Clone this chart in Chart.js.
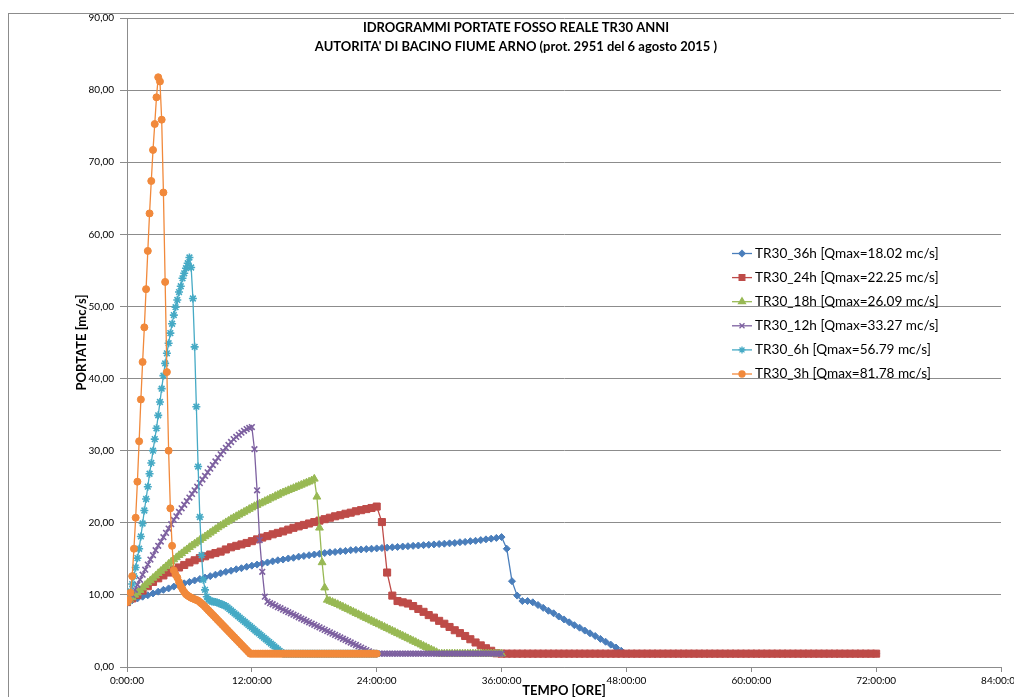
<!DOCTYPE html>
<html>
<head>
<meta charset="utf-8">
<script src="https://cdn.jsdelivr.net/npm/chart.js@4.4.1/dist/chart.umd.min.js"></script>
<style>
  html, body { margin: 0; padding: 0; background: #fff; overflow: hidden; }
  #grafico { position: absolute; left: 0; top: 0; }
</style>
</head>
<body>
<canvas id="grafico" width="1040" height="720"></canvas>
<script>
const titolo = [
  "IDROGRAMMI PORTATE FOSSO REALE TR30 ANNI",
  "AUTORITA' DI BACINO FIUME ARNO (prot. 2951 del 6 agosto 2015 )"
];
const nomiSerie = [
  "TR30_36h [Qmax=18.02 mc/s]",
  "TR30_24h [Qmax=22.25 mc/s]",
  "TR30_18h [Qmax=26.09 mc/s]",
  "TR30_12h [Qmax=33.27 mc/s]",
  "TR30_6h [Qmax=56.79 mc/s]",
  "TR30_3h [Qmax=81.78 mc/s]"
];
// passo temporale (ore) tra due valori di ogni idrogramma
const passi = [0.5, 0.5, 0.25, 0.25, 1 / 6, 1 / 6];

const etichetteX = ["0:00:00", "12:00:00", "24:00:00", "36:00:00", "48:00:00", "60:00:00", "72:00:00", "84:00:00"];
const etichetteY = ["0,00", "10,00", "20,00", "30,00", "40,00", "50,00", "60,00", "70,00", "80,00", "90,00"];

// portate [mc/s]
const q36h = [
  9.0, 9.25, 9.5, 9.75, 9.95, 10.2, 10.45, 10.7, 10.9, 11.15,
  11.35, 11.6, 11.8, 12.0, 12.2, 12.4, 12.6, 12.8, 13.0, 13.2,
  13.35, 13.55, 13.7, 13.9, 14.05, 14.2, 14.35, 14.5, 14.65, 14.8,
  14.9, 15.05, 15.15, 15.3, 15.4, 15.5, 15.6, 15.7, 15.8, 15.9,
  15.95, 16.05, 16.1, 16.2, 16.25, 16.3, 16.35, 16.4, 16.45, 16.5,
  16.55, 16.6, 16.65, 16.7, 16.75, 16.8, 16.85, 16.9, 16.95, 17.0,
  17.05, 17.1, 17.15, 17.2, 17.3, 17.35, 17.45, 17.5, 17.6, 17.7,
  17.8, 17.9, 18.02, 16.4, 11.9, 9.9, 9.15, 9.15, 8.97, 8.6,
  8.2, 7.8, 7.45, 7.0, 6.6, 6.2, 5.8, 5.45, 5.05, 4.67,
  4.3, 3.9, 3.5, 3.1, 2.7, 2.25, 1.85, 1.85, 1.85, 1.85,
  1.85, 1.85, 1.85, 1.85, 1.85, 1.85, 1.85, 1.85, 1.85, 1.85,
  1.85, 1.85, 1.85, 1.85, 1.85, 1.85, 1.85, 1.85, 1.85, 1.85,
  1.85, 1.85, 1.85, 1.85, 1.85, 1.85, 1.85, 1.85, 1.85, 1.85,
  1.85, 1.85, 1.85, 1.85, 1.85, 1.85, 1.85, 1.85, 1.85, 1.85,
  1.85, 1.85, 1.85, 1.85, 1.85
];
const q24h = [
  9.0, 9.5, 10.0, 10.6, 11.2, 11.8, 12.3, 12.7, 13.1, 13.5,
  13.8, 14.15, 14.5, 14.8, 15.1, 15.35, 15.6, 15.8, 16.0, 16.3,
  16.6, 16.8, 17.0, 17.2, 17.45, 17.7, 17.95, 18.15, 18.4, 18.6,
  18.8, 19.05, 19.3, 19.5, 19.7, 19.9, 20.1, 20.3, 20.5, 20.7,
  20.9, 21.05, 21.25, 21.4, 21.6, 21.75, 21.9, 22.05, 22.25, 20.1,
  13.1, 9.9, 9.15, 8.97, 8.8, 8.45, 8.05, 7.65, 7.2, 6.85,
  6.4, 6.0, 5.55, 5.1, 4.7, 4.3, 3.85, 3.4, 3.0, 2.6,
  2.25, 1.9, 1.85, 1.85, 1.85, 1.85, 1.85, 1.85, 1.85, 1.85,
  1.85, 1.85, 1.85, 1.85, 1.85, 1.85, 1.85, 1.85, 1.85, 1.85,
  1.85, 1.85, 1.85, 1.85, 1.85, 1.85, 1.85, 1.85, 1.85, 1.85,
  1.85, 1.85, 1.85, 1.85, 1.85, 1.85, 1.85, 1.85, 1.85, 1.85,
  1.85, 1.85, 1.85, 1.85, 1.85, 1.85, 1.85, 1.85, 1.85, 1.85,
  1.85, 1.85, 1.85, 1.85, 1.85, 1.85, 1.85, 1.85, 1.85, 1.85,
  1.85, 1.85, 1.85, 1.85, 1.85, 1.85, 1.85, 1.85, 1.85, 1.85,
  1.85, 1.85, 1.85, 1.85, 1.85
];
const q18h = [
  9.0, 9.35, 9.65, 10.0, 10.3, 10.65, 11.0, 11.35, 11.7, 12.0,
  12.35, 12.65, 13.0, 13.3, 13.65, 13.95, 14.3, 14.6, 14.9, 15.2,
  15.5, 15.75, 16.05, 16.3, 16.6, 16.85, 17.1, 17.35, 17.6, 17.85,
  18.1, 18.35, 18.6, 18.85, 19.1, 19.35, 19.6, 19.8, 20.05, 20.25,
  20.5, 20.7, 20.9, 21.1, 21.3, 21.5, 21.7, 21.9, 22.1, 22.3,
  22.45, 22.65, 22.8, 23.0, 23.15, 23.35, 23.5, 23.7, 23.85, 24.05,
  24.2, 24.35, 24.5, 24.65, 24.8, 24.95, 25.1, 25.25, 25.4, 25.55,
  25.7, 25.85, 26.09, 23.6, 19.3, 14.5, 11.0, 9.3, 9.15, 9.0,
  8.85, 8.7, 8.52, 8.35, 8.17, 8.0, 7.82, 7.65, 7.47, 7.3,
  7.12, 6.95, 6.77, 6.6, 6.42, 6.25, 6.07, 5.9, 5.72, 5.55,
  5.37, 5.2, 5.02, 4.85, 4.67, 4.5, 4.32, 4.15, 3.97, 3.8,
  3.62, 3.45, 3.27, 3.1, 2.92, 2.75, 2.57, 2.4, 2.22, 2.05,
  1.85, 1.85, 1.85, 1.85, 1.85, 1.85, 1.85, 1.85, 1.85, 1.85,
  1.85, 1.85, 1.85, 1.85, 1.85, 1.85, 1.85, 1.85, 1.85, 1.85,
  1.85, 1.85, 1.85, 1.85, 1.85
];
const q12h = [
  9.0, 9.4, 10.0, 10.7, 11.4, 12.1, 12.8, 13.5, 14.2, 14.9,
  15.5, 16.2, 16.8, 17.4, 18.0, 18.6, 19.2, 19.8, 20.4, 20.9,
  21.5, 22.0, 22.5, 23.0, 23.5, 24.0, 24.5, 25.0, 25.5, 26.0,
  26.5, 27.0, 27.5, 28.0, 28.5, 29.0, 29.5, 29.95, 30.4, 30.8,
  31.2, 31.6, 31.9, 32.2, 32.5, 32.75, 33.0, 33.15, 33.27, 30.2,
  24.5, 17.6, 13.2, 9.75, 9.06, 8.85, 8.7, 8.5, 8.3, 8.15,
  7.95, 7.8, 7.6, 7.45, 7.25, 7.1, 6.9, 6.72, 6.55, 6.37,
  6.2, 6.02, 5.85, 5.67, 5.5, 5.32, 5.15, 4.97, 4.8, 4.62,
  4.45, 4.27, 4.1, 3.92, 3.75, 3.57, 3.4, 3.22, 3.05, 2.87,
  2.7, 2.52, 2.35, 2.17, 2.0, 1.85, 1.85, 1.85, 1.85, 1.85,
  1.85, 1.85, 1.85, 1.85, 1.85, 1.85, 1.85, 1.85, 1.85, 1.85,
  1.85, 1.85, 1.85, 1.85, 1.85, 1.85, 1.85, 1.85, 1.85, 1.85,
  1.85, 1.85, 1.85, 1.85, 1.85, 1.85, 1.85, 1.85, 1.85, 1.85,
  1.85, 1.85, 1.85, 1.85, 1.85, 1.85, 1.85, 1.85, 1.85, 1.85,
  1.85, 1.85, 1.85, 1.85, 1.85
];
const q6h = [
  9.0, 9.6, 10.5, 11.5, 12.6, 13.8, 15.1, 16.4, 18.1, 19.9,
  21.7, 23.3, 25.0, 26.8, 28.3, 30.0, 31.6, 33.1, 34.9, 36.75,
  38.6, 40.4, 42.1, 43.5, 44.9, 46.3, 47.6, 48.8, 49.9, 50.9,
  52.0, 52.8, 53.9, 54.6, 55.3, 56.0, 56.79, 55.4, 51.1, 44.4,
  36.1, 27.8, 20.8, 15.5, 12.1, 10.7, 9.75, 9.35, 9.2, 9.1,
  9.05, 9.0, 8.95, 8.85, 8.75, 8.65, 8.55, 8.45, 8.25, 8.05,
  7.85, 7.65, 7.45, 7.25, 7.05, 6.85, 6.65, 6.45, 6.25, 6.05,
  5.85, 5.65, 5.45, 5.25, 5.05, 4.85, 4.65, 4.45, 4.25, 4.05,
  3.85, 3.65, 3.45, 3.25, 3.05, 2.85, 2.65, 2.45, 2.25, 2.05,
  1.85, 1.85, 1.85, 1.85, 1.85, 1.85, 1.85, 1.85, 1.85, 1.85,
  1.85, 1.85, 1.85, 1.85, 1.85, 1.85, 1.85, 1.85, 1.85, 1.85,
  1.85, 1.85, 1.85, 1.85, 1.85, 1.85, 1.85, 1.85, 1.85, 1.85,
  1.85, 1.85, 1.85, 1.85, 1.85, 1.85, 1.85, 1.85, 1.85, 1.85,
  1.85, 1.85, 1.85, 1.85, 1.85, 1.85, 1.85, 1.85, 1.85, 1.85,
  1.85, 1.85, 1.85, 1.85, 1.85
];
const q3h = [
  9.0, 9.3, 10.3, 12.6, 16.4, 20.7, 25.7, 31.3, 37.1, 42.3,
  47.1, 52.4, 57.7, 62.9, 67.4, 71.7, 75.3, 79.0, 81.78, 81.2,
  75.9, 65.8, 53.4, 40.9, 30.0, 22.0, 16.8, 13.4, 12.8, 12.4,
  11.8, 11.2, 10.8, 10.4, 10.1, 9.9, 9.75, 9.6, 9.5, 9.4,
  9.3, 9.2, 9.0, 8.8, 8.6, 8.35, 8.1, 7.85, 7.6, 7.35,
  7.1, 6.85, 6.6, 6.35, 6.1, 5.85, 5.6, 5.35, 5.1, 4.85,
  4.6, 4.35, 4.1, 3.85, 3.6, 3.35, 3.1, 2.85, 2.6, 2.35,
  2.1, 1.85, 1.85, 1.85, 1.85, 1.85, 1.85, 1.85, 1.85, 1.85,
  1.85, 1.85, 1.85, 1.85, 1.85, 1.85, 1.85, 1.85, 1.85, 1.85,
  1.85, 1.85, 1.85, 1.85, 1.85, 1.85, 1.85, 1.85, 1.85, 1.85,
  1.85, 1.85, 1.85, 1.85, 1.85, 1.85, 1.85, 1.85, 1.85, 1.85,
  1.85, 1.85, 1.85, 1.85, 1.85, 1.85, 1.85, 1.85, 1.85, 1.85,
  1.85, 1.85, 1.85, 1.85, 1.85, 1.85, 1.85, 1.85, 1.85, 1.85,
  1.85, 1.85, 1.85, 1.85, 1.85, 1.85, 1.85, 1.85, 1.85, 1.85,
  1.85, 1.85, 1.85, 1.85, 1.85
];

const portate = [q36h, q24h, q18h, q12h, q6h, q3h];
const colori = ["#4A7EBB", "#BE4B48", "#98B954", "#7D60A0", "#46AAC5", "#F1893B"];
const forme = ["rectRot", "rect", "triangle", "crossRot", "star", "circle"];
const raggi = [3.5, 5, 4.5, 4, 4, 3.5];
const bordiPunti = [1, 1, 1, 1.6, 1.6, 1];
const raggiLegenda = [3, 4, 4, 3.5, 3.5, 3];

const font = "Lato";
const grigio = "#8c8c8c";

const datasets = portate.map((serie, i) => ({
  label: nomiSerie[i],
  data: serie.map((q, k) => ({ x: k * passi[i], y: q })),
  borderColor: colori[i],
  backgroundColor: colori[i],
  borderWidth: 1.3,
  pointStyle: forme[i],
  pointRadius: raggi[i],
  pointBorderWidth: bordiPunti[i],
  pointBorderColor: colori[i],
  pointBackgroundColor: colori[i],
  tension: 0,
  order: 5 - i
}));

const cornice = {
  id: "cornice",
  beforeDraw(chart) {
    const ctx = chart.ctx;
    ctx.save();
    ctx.fillStyle = "#fff";
    ctx.fillRect(0, 0, chart.width, chart.height);
    ctx.strokeStyle = grigio;
    ctx.lineWidth = 1;
    ctx.strokeRect(8.5, 13.5, chart.width + 20, chart.height + 20);
    ctx.restore();
  }
};

const titoloELegenda = {
  id: "titoloELegenda",
  afterDraw(chart) {
    const ctx = chart.ctx;
    ctx.save();
    ctx.fillStyle = "#000";
    ctx.textAlign = "center";
    ctx.textBaseline = "middle";
    ctx.font = "bold 13px " + font;
    ctx.fillText(titolo[0], 516, 28);
    ctx.fillText(titolo[1], 516, 47);

    ctx.textAlign = "left";
    ctx.font = "13.6px " + font;
    nomiSerie.forEach((nome, i) => {
      const y = 253.5 + i * 24.1;
      ctx.strokeStyle = colori[i];
      ctx.fillStyle = colori[i];
      ctx.lineWidth = 1.3;
      ctx.beginPath();
      ctx.moveTo(732, y);
      ctx.lineTo(752, y);
      ctx.stroke();
      Chart.helpers.drawPoint(ctx, { pointStyle: forme[i], radius: raggiLegenda[i], borderWidth: bordiPunti[i], rotation: 0 }, 742, y);
      ctx.fillStyle = "#000";
      ctx.fillText(nome, 755, y);
    });
    ctx.restore();
  }
};

new Chart(document.getElementById("grafico"), {
  type: "line",
  data: { datasets: datasets },
  plugins: [cornice, titoloELegenda],
  options: {
    responsive: false,
    animation: false,
    layout: { padding: { left: 0, top: 18, right: 39, bottom: 0 } },
    plugins: {
      legend: { display: false },
      tooltip: { enabled: false }
    },
    scales: {
      x: {
        type: "linear",
        min: 0,
        max: 84,
        ticks: {
          stepSize: 12,
          autoSkip: false,
          maxRotation: 0,
          padding: 3,
          color: "#000",
          font: { family: font, size: 10 },
          callback: v => etichetteX[v / 12]
        },
        grid: { drawOnChartArea: false, drawTicks: true, tickLength: 5, color: grigio },
        border: { color: grigio },
        title: {
          display: true,
          text: "TEMPO [ORE]",
          color: "#000",
          font: { family: font, size: 13, weight: "bold" },
          padding: { top: 0, bottom: 21 }
        },
        afterFit: s => { s.height = 53; }
      },
      y: {
        min: 0,
        max: 90,
        ticks: {
          stepSize: 10,
          padding: 6,
          color: "#000",
          font: { family: font, size: 10 },
          callback: v => etichetteY[v / 10]
        },
        grid: { color: grigio, tickLength: 7 },
        border: { color: grigio },
        title: {
          display: true,
          text: "PORTATE [mc/s]",
          color: "#000",
          font: { family: font, size: 13, weight: "bold" },
          padding: { top: 74, bottom: 0 }
        },
        afterFit: s => { s.width = 127; }
      }
    }
  }
});
</script>
</body>
</html>
